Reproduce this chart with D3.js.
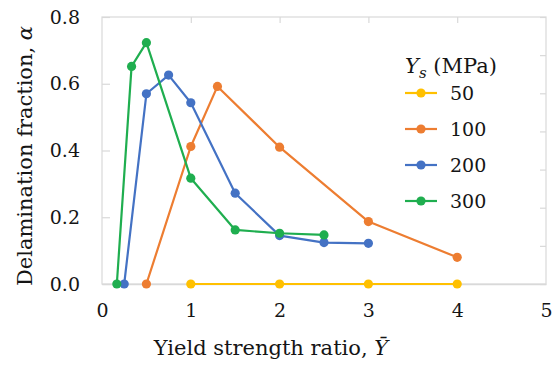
<!DOCTYPE html>
<html>
<head>
<meta charset="utf-8">
<script src="https://cdn.jsdelivr.net/npm/d3@7/dist/d3.min.js"></script>
<style>
  html, body { margin: 0; padding: 0; background: #fff; }
  svg { display: block; }
  text { font-family: "DejaVu Serif", "Liberation Serif", serif; fill: #151515; }
</style>
</head>
<body>
<svg id="chart" width="552" height="367"></svg>
<script>
// Yield strength levels Y_s (MPa) and their colours
const seriesNames = ["50", "100", "200", "300"];
const seriesColors = ["#FFC000", "#ED7D31", "#4472C4", "#1FAE4F"];

// Yield strength ratio (x) and delamination fraction (alpha) per series
const x50 = [1, 2, 3, 4];
const a50 = [0, 0, 0, 0];
const x100 = [0.5, 1, 1.3, 2, 3, 4];
const a100 = [0, 0.412, 0.592, 0.41, 0.187, 0.08];
const x200 = [0.25, 0.5, 0.75, 1, 1.5, 2, 2.5, 3];
const a200 = [0, 0.57, 0.626, 0.543, 0.272, 0.145, 0.124, 0.122];
const x300 = [0.167, 0.333, 0.5, 1, 1.5, 2, 2.5];
const a300 = [0, 0.652, 0.723, 0.317, 0.162, 0.152, 0.147];

// Axis ticks
const xTicks = [0, 1, 2, 3, 4, 5];
const yTicks = [0, 0.2, 0.4, 0.6, 0.8];
const rightTickCount = 7;

const seriesX = [x50, x100, x200, x300];
const seriesA = [a50, a100, a200, a300];
const series = seriesNames.map((name, i) => ({
  name, color: seriesColors[i],
  points: seriesX[i].map((x, j) => ({ x, a: seriesA[i][j] }))
}));

const svg = d3.select("#chart");
const plot = { left: 102, right: 546, top: 17, bottom: 284 };

const x = d3.scaleLinear().domain([0, 5]).range([plot.left, plot.right]);
const y = d3.scaleLinear().domain([0, 0.8]).range([plot.bottom, plot.top]);
const yRight = d3.scaleLinear().domain([0, rightTickCount]).range([plot.bottom, plot.top]);

const frameColor = "#d9d9d9";

// Plot frame
svg.append("rect")
  .attr("x", plot.left).attr("y", plot.top)
  .attr("width", plot.right - plot.left).attr("height", plot.bottom - plot.top)
  .attr("fill", "none").attr("stroke", frameColor).attr("stroke-width", 1.2);

// Left axis: inward ticks and labels
const leftAxis = d3.axisLeft(y).tickValues(yTicks).tickSize(-8).tickPadding(22)
  .tickFormat(d3.format(".1f"));
const gl = svg.append("g").attr("transform", `translate(${plot.left},0)`).call(leftAxis);
gl.select(".domain").remove();
gl.selectAll(".tick line").attr("stroke", frameColor).attr("stroke-width", 1.2);
gl.selectAll(".tick text").attr("font-size", 19).attr("fill", "#151515")
  .style("font-family", '"DejaVu Serif", serif');

// Bottom axis: labels only
const bottomAxis = d3.axisBottom(x).tickValues(xTicks).tickSize(0).tickPadding(20)
  .tickFormat(d3.format("d"));
const gb = svg.append("g").attr("transform", `translate(0,${plot.bottom})`).call(bottomAxis);
gb.select(".domain").attr("stroke", frameColor).attr("stroke-width", 1.4);
gb.selectAll(".tick text").attr("font-size", 19).attr("fill", "#151515")
  .style("font-family", '"DejaVu Serif", serif');

// Top axis: inward ticks
const topAxis = d3.axisTop(x).tickValues(xTicks.slice(1, -1)).tickSize(-6).tickFormat("");
const gt = svg.append("g").attr("transform", `translate(0,${plot.top})`).call(topAxis);
gt.select(".domain").remove();
gt.selectAll(".tick line").attr("stroke", frameColor).attr("stroke-width", 1.2);

// Right axis: inward ticks
const rightAxis = d3.axisRight(yRight).ticks(rightTickCount).tickSize(-6).tickFormat("");
const gr = svg.append("g").attr("transform", `translate(${plot.right},0)`).call(rightAxis);
gr.select(".domain").remove();
gr.selectAll(".tick line").attr("stroke", frameColor).attr("stroke-width", 1.2);

// Series lines and markers
const line = d3.line().x(d => x(d.x)).y(d => y(d.a));
const gs = svg.append("g");
series.forEach(s => {
  gs.append("path").datum(s.points)
    .attr("d", line).attr("fill", "none")
    .attr("stroke", s.color).attr("stroke-width", 2.2).attr("stroke-linejoin", "round");
  gs.selectAll(null).data(s.points).join("circle")
    .attr("cx", d => x(d.x)).attr("cy", d => y(d.a)).attr("r", 4.6)
    .attr("fill", s.color);
});

// Axis titles
svg.append("text")
  .attr("x", 271).attr("y", 355).attr("text-anchor", "middle").attr("font-size", 21)
  .text("Yield strength ratio, ")
  .append("tspan").attr("font-style", "italic").text("Ȳ");

svg.append("text")
  .attr("transform", "translate(32,156) rotate(-90)")
  .attr("text-anchor", "middle").attr("font-size", 21)
  .text("Delamination fraction, ")
  .append("tspan").attr("font-style", "italic").text("α");

// Legend
const legend = svg.append("g");
const lt = legend.append("text").attr("x", 405).attr("y", 73).attr("font-size", 21);
lt.append("tspan").attr("font-style", "italic").text("Y");
lt.append("tspan").attr("font-style", "italic").attr("font-size", 15).attr("dy", 5).text("s");
lt.append("tspan").attr("dy", -5).text(" (MPa)");

const rowY = d3.scalePoint().domain(seriesNames).range([93, 201]);
series.forEach(s => {
  const g = legend.append("g").attr("transform", `translate(0,${rowY(s.name)})`);
  g.append("line").attr("x1", 405).attr("x2", 437).attr("stroke", s.color).attr("stroke-width", 2.2);
  g.append("circle").attr("cx", 421).attr("r", 4.6).attr("fill", s.color);
  g.append("text").attr("x", 450).attr("y", 7).attr("font-size", 19).text(s.name);
});
</script>
</body>
</html>
